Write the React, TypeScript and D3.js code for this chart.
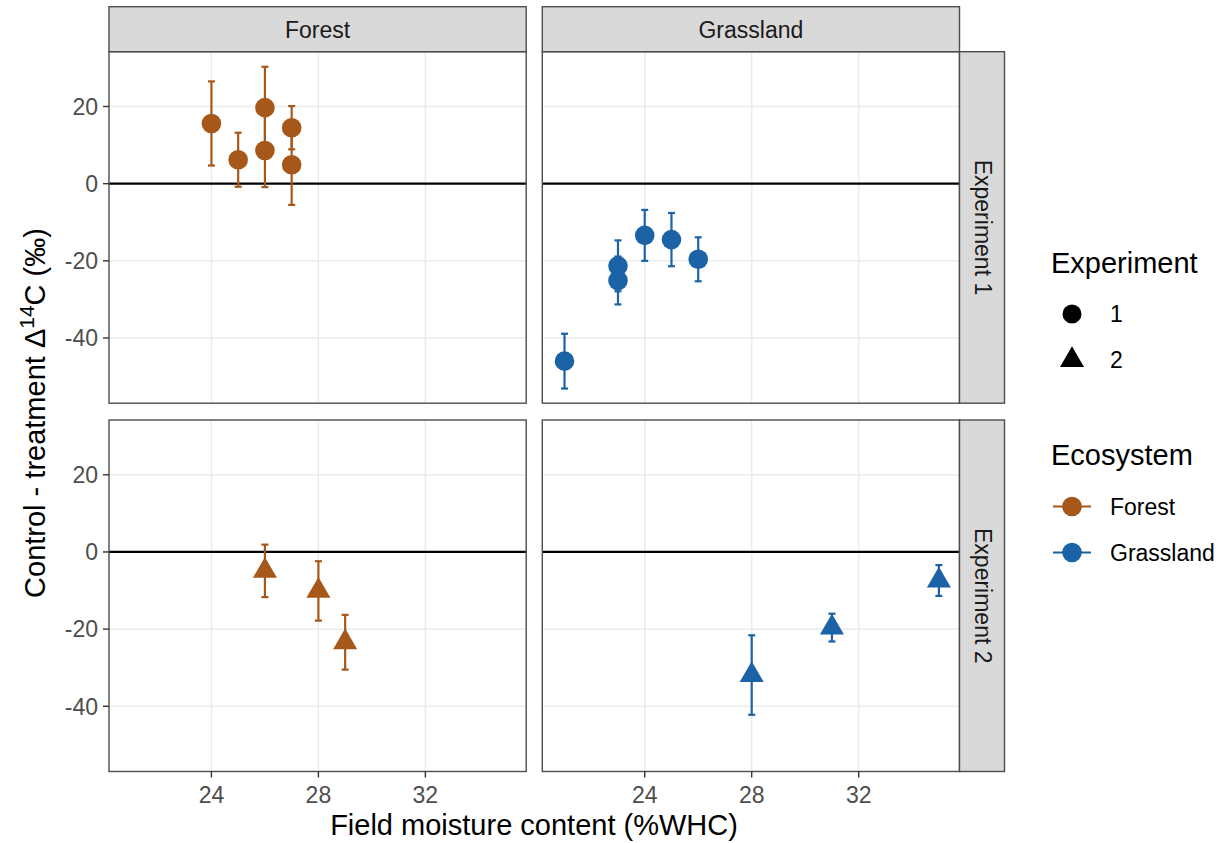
import React from 'react'
import * as d3 from 'd3'

// facet labels
const ecosystems = ['Forest', 'Grassland']
const experiments = ['Experiment 1', 'Experiment 2']

// Forest, experiment 1
const forestExp1Moisture = [24, 25, 26, 26, 27, 27]
const forestExp1Delta = [15.6, 6.2, 19.7, 8.6, 14.5, 4.9]
const forestExp1Err = [10.9, 7.0, 10.6, 9.5, 5.6, 10.4]

// Grassland, experiment 1
const grassExp1Moisture = [21, 23, 23, 24, 25, 26]
const grassExp1Delta = [-46.0, -21.3, -25.1, -13.4, -14.5, -19.6]
const grassExp1Err = [7.1, 6.6, 6.2, 6.6, 6.9, 5.7]

// Forest, experiment 2
const forestExp2Moisture = [26, 28, 29]
const forestExp2Delta = [-4.9, -10.1, -23.4]
const forestExp2Err = [6.8, 7.7, 7.1]

// Grassland, experiment 2
const grassExp2Moisture = [28, 31, 35]
const grassExp2Delta = [-31.9, -19.6, -7.4]
const grassExp2Err = [10.3, 3.6, 4.0]

const xTicks = [24, 28, 32]
const yTicks = [20, 0, -20, -40]
const xDomain = [20.17, 35.77]
const yDomain = [-56.9, 34.2]

const colors = { Forest: '#A6581A', Grassland: '#1B63A6' }

const groups = [
  { eco: 'Forest', exp: 1, x: forestExp1Moisture, y: forestExp1Delta, e: forestExp1Err },
  { eco: 'Grassland', exp: 1, x: grassExp1Moisture, y: grassExp1Delta, e: grassExp1Err },
  { eco: 'Forest', exp: 2, x: forestExp2Moisture, y: forestExp2Delta, e: forestExp2Err },
  { eco: 'Grassland', exp: 2, x: grassExp2Moisture, y: grassExp2Delta, e: grassExp2Err },
]

const font = '"Liberation Sans", Arial, Helvetica, sans-serif'
const small = 23
const big = 29

const panelX0 = [109, 542.3]
const panelW = 417.2
const panelY0 = [51.7, 420]
const panelH = 351.5

const triPath = d3.symbol(d3.symbolTriangle, 250)()

const App = () => {
  const x = d3.scaleLinear().domain(xDomain).range([0, panelW])
  const y = d3.scaleLinear().domain(yDomain).range([panelH, 0])

  const panels = []
  experiments.forEach((expLabel, ri) => {
    ecosystems.forEach((eco, ci) => {
      const g = groups.find(d => d.eco === eco && d.exp === ri + 1)
      const col = colors[eco]
      panels.push(
        <g key={eco + ri} transform={`translate(${panelX0[ci]},${panelY0[ri]})`}>
          <rect width={panelW} height={panelH} fill="white" />
          {xTicks.map(t => (
            <line key={'gx' + t} x1={x(t)} x2={x(t)} y1={0} y2={panelH} stroke="#EBEBEB" strokeWidth={1.5} />
          ))}
          {yTicks.map(t => (
            <line key={'gy' + t} x1={0} x2={panelW} y1={y(t)} y2={y(t)} stroke="#EBEBEB" strokeWidth={1.5} />
          ))}
          <line x1={0} x2={panelW} y1={y(0)} y2={y(0)} stroke="black" strokeWidth={2.2} />
          {g.x.map((xv, i) => (
            <g key={'e' + i} stroke={col} strokeWidth={2.2}>
              <line x1={x(xv)} x2={x(xv)} y1={y(g.y[i] + g.e[i])} y2={y(g.y[i] - g.e[i])} />
              <line x1={x(xv) - 3.5} x2={x(xv) + 3.5} y1={y(g.y[i] + g.e[i])} y2={y(g.y[i] + g.e[i])} />
              <line x1={x(xv) - 3.5} x2={x(xv) + 3.5} y1={y(g.y[i] - g.e[i])} y2={y(g.y[i] - g.e[i])} />
            </g>
          ))}
          {g.x.map((xv, i) =>
            g.exp === 1 ? (
              <circle key={'p' + i} cx={x(xv)} cy={y(g.y[i])} r={9.8} fill={col} />
            ) : (
              <path key={'p' + i} d={triPath} transform={`translate(${x(xv)},${y(g.y[i])})`} fill={col} />
            )
          )}
          <rect width={panelW} height={panelH} fill="none" stroke="#4D4D4D" strokeWidth={1.4} />
          {ri === 0 && (
            <g>
              <rect x={0} y={6.7 - panelY0[0]} width={panelW} height={panelY0[0] - 6.7} fill="#D9D9D9" stroke="#4D4D4D" strokeWidth={1.4} />
              <text x={panelW / 2} y={37.5 - panelY0[0]} textAnchor="middle" fontSize={small} fill="#1A1A1A">{eco}</text>
            </g>
          )}
          {ci === 1 && (
            <g>
              <rect x={panelW} y={0} width={45} height={panelH} fill="#D9D9D9" stroke="#4D4D4D" strokeWidth={1.4} />
              <text transform={`translate(${panelW + 15},${panelH / 2}) rotate(90)`} textAnchor="middle" fontSize={small} fill="#1A1A1A">{expLabel}</text>
            </g>
          )}
          {ci === 0 && yTicks.map(t => (
            <g key={'yt' + t}>
              <line x1={-6} x2={0} y1={y(t)} y2={y(t)} stroke="#333" strokeWidth={1.4} />
              <text x={-11} y={y(t)} dy="0.36em" textAnchor="end" fontSize={small} fill="#4D4D4D">{t}</text>
            </g>
          ))}
          {ri === 1 && xTicks.map(t => (
            <g key={'xt' + t}>
              <line x1={x(t)} x2={x(t)} y1={panelH} y2={panelH + 6} stroke="#333" strokeWidth={1.4} />
              <text x={x(t)} y={803 - panelY0[1]} textAnchor="middle" fontSize={small} fill="#4D4D4D">{t}</text>
            </g>
          ))}
        </g>
      )
    })
  })

  return (
    <svg width={1224} height={843} style={{ position: 'absolute', left: 0, top: 0, fontFamily: font }}>
      <rect width={1224} height={843} fill="white" />
      {panels}
      <text x={534} y={835} textAnchor="middle" fontSize={big} fill="black">Field moisture content (%WHC)</text>
      <text transform="translate(45,413) rotate(-90)" textAnchor="middle" fontSize={big} fill="black">
        Control - treatment Δ<tspan fontSize={21} dy={-11}>14</tspan><tspan dy={11}>C (‰)</tspan>
      </text>
      {/* legend: experiment shape */}
      <text x={1051} y={273} fontSize={big} fill="black">Experiment</text>
      <circle cx={1072} cy={314} r={9.5} fill="black" />
      <text x={1110} y={314} dy="0.36em" fontSize={small} fill="black">1</text>
      <path d={triPath} transform="translate(1072,360)" fill="black" />
      <text x={1110} y={360} dy="0.36em" fontSize={small} fill="black">2</text>
      {/* legend: ecosystem colour */}
      <text x={1051} y={465} fontSize={big} fill="black">Ecosystem</text>
      {ecosystems.map((eco, i) => (
        <g key={eco} transform={`translate(0,${506.5 + i * 46})`}>
          <line x1={1053} x2={1091} y1={0} y2={0} stroke={colors[eco]} strokeWidth={2.2} />
          <circle cx={1072} cy={0} r={9.8} fill={colors[eco]} />
          <text x={1110} y={0} dy="0.36em" fontSize={small} fill="black">{eco}</text>
        </g>
      ))}
    </svg>
  )
}

export default App
